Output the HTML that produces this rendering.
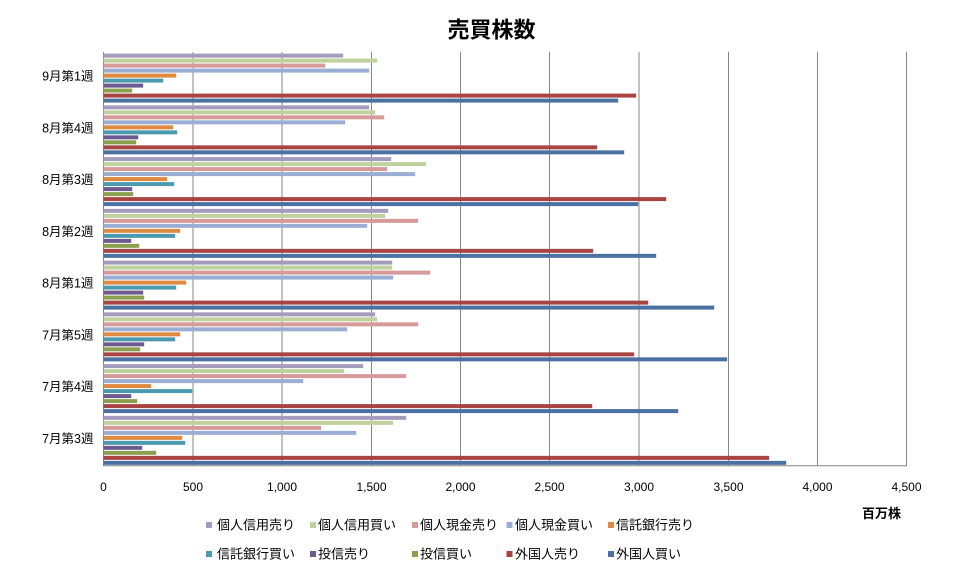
<!DOCTYPE html>
<html><head><meta charset="utf-8"><style>
html,body{margin:0;padding:0;background:#fff;}
svg{display:block;font-family:"Liberation Sans","Noto Sans CJK JP",sans-serif;}
</style></head><body>
<svg width="955" height="573" viewBox="0 0 955 573" xmlns="http://www.w3.org/2000/svg">
<rect width="955" height="573" fill="#fff"/>
<text x="491.5" y="37.5" font-size="22" font-weight="bold" text-anchor="middle" fill="#000">売買株数</text>
<g stroke="#868686" stroke-width="1">
<line x1="193" y1="52" x2="193" y2="466"/>
<line x1="282" y1="52" x2="282" y2="466"/>
<line x1="371.5" y1="52" x2="371.5" y2="466"/>
<line x1="460.5" y1="52" x2="460.5" y2="466"/>
<line x1="549.5" y1="52" x2="549.5" y2="466"/>
<line x1="639" y1="52" x2="639" y2="466"/>
<line x1="728.5" y1="52" x2="728.5" y2="466"/>
<line x1="817.5" y1="52" x2="817.5" y2="466"/>
<line x1="906.5" y1="52" x2="906.5" y2="466"/>
<line x1="103.5" y1="52" x2="103.5" y2="466"/>
<line x1="103" y1="465.8" x2="907" y2="465.8"/>
</g>
<g transform="translate(103.5,53.6)">
<rect y="0" height="4" width="239.7" fill="#A59BBD"/>
<rect y="5" height="4" width="273.7" fill="#BFD19D"/>
<rect y="10" height="4" width="221.7" fill="#D59A99"/>
<rect y="15" height="4" width="265.7" fill="#9AAED3"/>
<rect y="20" height="4" width="72.7" fill="#DE8A3F"/>
<rect y="25" height="4" width="59.7" fill="#4B9AB0"/>
<rect y="30" height="4" width="39.7" fill="#6D5A91"/>
<rect y="35" height="4" width="28.7" fill="#8AA04F"/>
<rect y="40" height="4" width="532.7" fill="#A84542"/>
<rect y="45" height="4" width="514.7" fill="#4A71A2"/>
</g>
<g transform="translate(103.5,105.35)">
<rect y="0" height="4" width="265.7" fill="#A59BBD"/>
<rect y="5" height="4" width="271.7" fill="#BFD19D"/>
<rect y="10" height="4" width="280.7" fill="#D59A99"/>
<rect y="15" height="4" width="241.7" fill="#9AAED3"/>
<rect y="20" height="4" width="69.7" fill="#DE8A3F"/>
<rect y="25" height="4" width="73.7" fill="#4B9AB0"/>
<rect y="30" height="4" width="34.7" fill="#6D5A91"/>
<rect y="35" height="4" width="32.7" fill="#8AA04F"/>
<rect y="40" height="4" width="493.7" fill="#A84542"/>
<rect y="45" height="4" width="520.7" fill="#4A71A2"/>
</g>
<g transform="translate(103.5,157.1)">
<rect y="0" height="4" width="287.7" fill="#A59BBD"/>
<rect y="5" height="4" width="322.7" fill="#BFD19D"/>
<rect y="10" height="4" width="283.7" fill="#D59A99"/>
<rect y="15" height="4" width="311.7" fill="#9AAED3"/>
<rect y="20" height="4" width="63.7" fill="#DE8A3F"/>
<rect y="25" height="4" width="70.7" fill="#4B9AB0"/>
<rect y="30" height="4" width="28.7" fill="#6D5A91"/>
<rect y="35" height="4" width="29.7" fill="#8AA04F"/>
<rect y="40" height="4" width="562.7" fill="#A84542"/>
<rect y="45" height="4" width="534.7" fill="#4A71A2"/>
</g>
<g transform="translate(103.5,208.85)">
<rect y="0" height="4" width="284.7" fill="#A59BBD"/>
<rect y="5" height="4" width="281.7" fill="#BFD19D"/>
<rect y="10" height="4" width="314.7" fill="#D59A99"/>
<rect y="15" height="4" width="263.7" fill="#9AAED3"/>
<rect y="20" height="4" width="76.7" fill="#DE8A3F"/>
<rect y="25" height="4" width="71.7" fill="#4B9AB0"/>
<rect y="30" height="4" width="27.7" fill="#6D5A91"/>
<rect y="35" height="4" width="35.7" fill="#8AA04F"/>
<rect y="40" height="4" width="489.7" fill="#A84542"/>
<rect y="45" height="4" width="552.7" fill="#4A71A2"/>
</g>
<g transform="translate(103.5,260.6)">
<rect y="0" height="4" width="288.7" fill="#A59BBD"/>
<rect y="5" height="4" width="288.7" fill="#BFD19D"/>
<rect y="10" height="4" width="326.7" fill="#D59A99"/>
<rect y="15" height="4" width="289.7" fill="#9AAED3"/>
<rect y="20" height="4" width="82.7" fill="#DE8A3F"/>
<rect y="25" height="4" width="72.7" fill="#4B9AB0"/>
<rect y="30" height="4" width="39.7" fill="#6D5A91"/>
<rect y="35" height="4" width="40.7" fill="#8AA04F"/>
<rect y="40" height="4" width="544.7" fill="#A84542"/>
<rect y="45" height="4" width="610.7" fill="#4A71A2"/>
</g>
<g transform="translate(103.5,312.35)">
<rect y="0" height="4" width="271.7" fill="#A59BBD"/>
<rect y="5" height="4" width="273.7" fill="#BFD19D"/>
<rect y="10" height="4" width="314.7" fill="#D59A99"/>
<rect y="15" height="4" width="243.7" fill="#9AAED3"/>
<rect y="20" height="4" width="76.7" fill="#DE8A3F"/>
<rect y="25" height="4" width="71.7" fill="#4B9AB0"/>
<rect y="30" height="4" width="40.7" fill="#6D5A91"/>
<rect y="35" height="4" width="36.7" fill="#8AA04F"/>
<rect y="40" height="4" width="530.7" fill="#A84542"/>
<rect y="45" height="4" width="623.7" fill="#4A71A2"/>
</g>
<g transform="translate(103.5,364.1)">
<rect y="0" height="4" width="259.7" fill="#A59BBD"/>
<rect y="5" height="4" width="240.7" fill="#BFD19D"/>
<rect y="10" height="4" width="302.7" fill="#D59A99"/>
<rect y="15" height="4" width="199.7" fill="#9AAED3"/>
<rect y="20" height="4" width="47.7" fill="#DE8A3F"/>
<rect y="25" height="4" width="88.7" fill="#4B9AB0"/>
<rect y="30" height="4" width="27.7" fill="#6D5A91"/>
<rect y="35" height="4" width="33.7" fill="#8AA04F"/>
<rect y="40" height="4" width="488.7" fill="#A84542"/>
<rect y="45" height="4" width="574.7" fill="#4A71A2"/>
</g>
<g transform="translate(103.5,415.85)">
<rect y="0" height="4" width="302.7" fill="#A59BBD"/>
<rect y="5" height="4" width="289.7" fill="#BFD19D"/>
<rect y="10" height="4" width="217.7" fill="#D59A99"/>
<rect y="15" height="4" width="252.7" fill="#9AAED3"/>
<rect y="20" height="4" width="78.7" fill="#DE8A3F"/>
<rect y="25" height="4" width="81.7" fill="#4B9AB0"/>
<rect y="30" height="4" width="38.7" fill="#6D5A91"/>
<rect y="35" height="4" width="52.7" fill="#8AA04F"/>
<rect y="40" height="4" width="665.7" fill="#A84542"/>
<rect y="45" height="4" width="682.7" fill="#4A71A2"/>
</g>
<g font-size="12.5" text-anchor="end" fill="#000">
<text x="93.5" y="80.5">9月第1週</text>
<text x="93.5" y="132.25">8月第4週</text>
<text x="93.5" y="184">8月第3週</text>
<text x="93.5" y="235.75">8月第2週</text>
<text x="93.5" y="287.5">8月第1週</text>
<text x="93.5" y="339.25">7月第5週</text>
<text x="93.5" y="391">7月第4週</text>
<text x="93.5" y="442.75">7月第3週</text>
</g>
<g font-size="12" text-anchor="middle" fill="#000">
<text x="103.5" y="491">0</text>
<text x="193" y="491">500</text>
<text x="282" y="491">1,000</text>
<text x="371.5" y="491">1,500</text>
<text x="460.5" y="491">2,000</text>
<text x="549.5" y="491">2,500</text>
<text x="639" y="491">3,000</text>
<text x="728.5" y="491">3,500</text>
<text x="817.5" y="491">4,000</text>
<text x="906.5" y="491">4,500</text>
</g>
<text x="862" y="518" font-size="13" font-weight="bold" fill="#000">百万株</text>
<g font-size="13" fill="#000">
<rect x="206" y="522" width="6" height="6" fill="#A59BBD"/><text x="217" y="529.5">個人信用売り</text>
<rect x="310" y="522" width="6" height="6" fill="#BFD19D"/><text x="318" y="529.5">個人信用買い</text>
<rect x="412" y="522" width="6" height="6" fill="#D59A99"/><text x="420" y="529.5">個人現金売り</text>
<rect x="506.5" y="522" width="6" height="6" fill="#9AAED3"/><text x="515" y="529.5">個人現金買い</text>
<rect x="608" y="522" width="6" height="6" fill="#DE8A3F"/><text x="616" y="529.5">信託銀行売り</text>
<rect x="206" y="551" width="6" height="6" fill="#4B9AB0"/><text x="217" y="558.5">信託銀行買い</text>
<rect x="310" y="551" width="6" height="6" fill="#6D5A91"/><text x="318" y="558.5">投信売り</text>
<rect x="412" y="551" width="6" height="6" fill="#8AA04F"/><text x="420" y="558.5">投信買い</text>
<rect x="506.5" y="551" width="6" height="6" fill="#A84542"/><text x="515" y="558.5">外国人売り</text>
<rect x="608" y="551" width="6" height="6" fill="#4A71A2"/><text x="616" y="558.5">外国人買い</text>
</g>
</svg>
</body></html>
